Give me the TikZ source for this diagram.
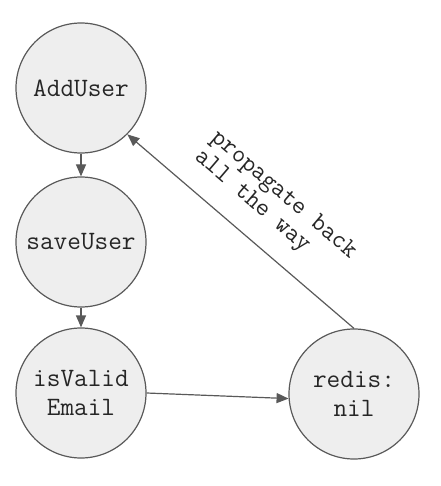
\documentclass[tikz,border=0pt]{standalone}
\usetikzlibrary{arrows.meta}
\definecolor{nodefill}{HTML}{EEEEEE}
\definecolor{edgecol}{HTML}{595959}
\tikzset{
  state/.style={circle, draw=edgecol, fill=nodefill, line width=1.2pt, minimum size=130pt, inner sep=0pt, font=\ttfamily\fontsize{26.5}{29}\selectfont, align=center, text=black!85},
  conn/.style={draw=edgecol, line width=1.2pt, -{Triangle[length=12pt,width=10pt]}},
  lbl/.style={font=\ttfamily\fontsize{25.5}{25}\selectfont, align=left, text=black!85}
}
\begin{document}
\begin{tikzpicture}[x=1pt,y=-1pt]
\useasboundingbox (0,0) rectangle (440,486);
\node[state] (add) at (81,88) {AddUser};
\node[state] (save) at (81,242) {saveUser};
\node[state] (isv) at (81,393) {isValid\\Email};
\node[state] (redis) at (354,394) {redis:\\nil};
\draw[conn] (add) -- (save);
\draw[conn] (save) -- (isv);
\draw[conn] (isv.east) -- (redis.184);
\draw[conn] (redis.north) -- (add.-45);
\node[lbl, rotate=-40.6] (prop) at (275,205) {propagate back\\all the way};
\end{tikzpicture}
\end{document}
